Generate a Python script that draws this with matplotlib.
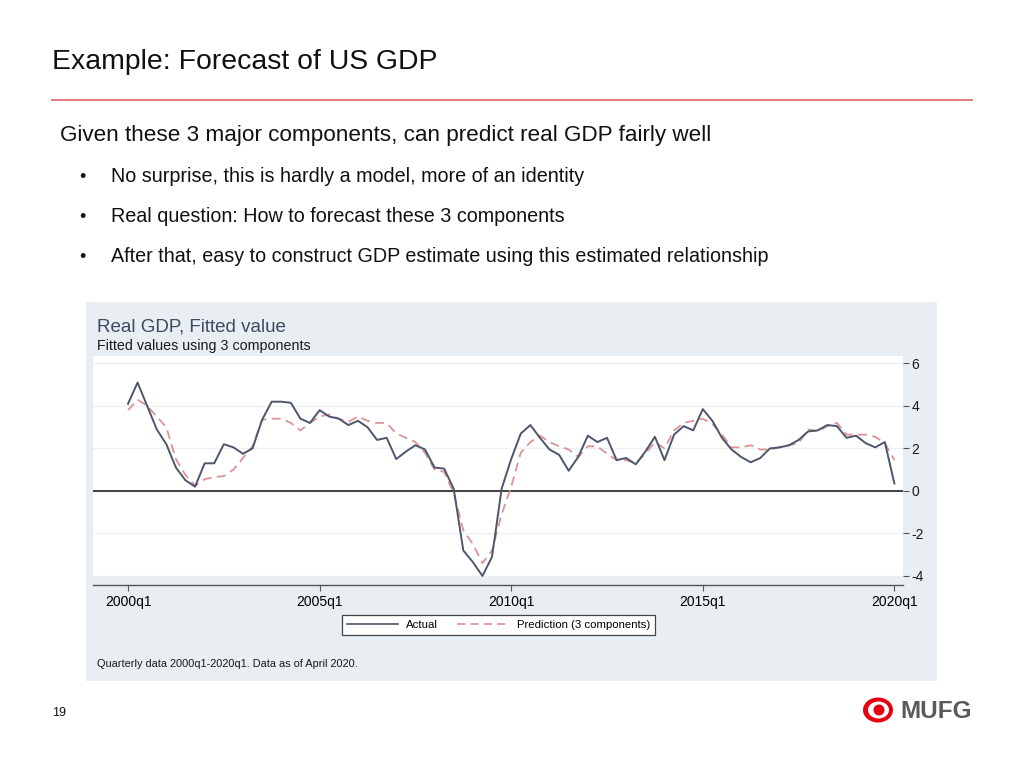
import matplotlib
matplotlib.use("Agg")
import matplotlib.pyplot as plt
from matplotlib.patches import Rectangle, Ellipse
from matplotlib.lines import Line2D
import numpy as np

plt.rcParams['font.family'] = ['Liberation Sans', 'DejaVu Sans']
plt.rcParams['axes.unicode_minus'] = False

# ---------------- data ----------------
years = list(range(2000, 2021))
quarters = [f"{y}q{q}" for y in years for q in range(1, 5)][:81]

actual = [4.1, 5.1, 4.0, 2.9,
          2.2, 1.1, 0.5, 0.2,
          1.3, 1.3, 2.2, 2.05,
          1.75, 2.0, 3.35, 4.2,
          4.2, 4.15, 3.4, 3.2,
          3.8, 3.5, 3.4, 3.1,
          3.3, 3.0, 2.4, 2.5,
          1.5, 1.85, 2.15, 1.95,
          1.1, 1.05, 0.1, -2.8,
          -3.35, -4.0, -3.1, 0.1,
          1.5, 2.7, 3.1, 2.5,
          1.95, 1.7, 0.95, 1.6,
          2.6, 2.3, 2.5, 1.45,
          1.55, 1.25, 1.85, 2.55,
          1.45, 2.65, 3.05, 2.85,
          3.85, 3.3, 2.5, 1.95,
          1.6, 1.35, 1.55, 2.0,
          2.05, 2.15, 2.4, 2.8,
          2.85, 3.1, 3.05, 2.5,
          2.6, 2.25, 2.05, 2.3,
          0.35]

prediction = [3.8, 4.3, 4.0, 3.5,
              3.0, 1.5, 0.75, 0.25,
              0.55, 0.65, 0.7, 1.0,
              1.55, 2.1, 3.35, 3.4,
              3.4, 3.2, 2.85, 3.2,
              3.5, 3.6, 3.4, 3.25,
              3.5, 3.3, 3.2, 3.2,
              2.7, 2.5, 2.3, 1.8,
              1.0, 0.9, -0.1, -1.85,
              -2.5, -3.4, -2.8, -1.1,
              0.2, 1.8, 2.3, 2.6,
              2.3, 2.1, 1.95, 1.6,
              2.1, 2.1, 1.75, 1.45,
              1.45, 1.3, 1.75, 2.3,
              2.0, 2.85, 3.2, 3.3,
              3.4, 3.15, 2.65, 2.05,
              2.05, 2.15, 1.95, 1.95,
              2.05, 2.15, 2.25, 2.9,
              2.8, 3.05, 3.2, 2.65,
              2.65, 2.65, 2.55, 2.25,
              1.45]

xtick_labels = ["2000q1", "2005q1", "2010q1", "2015q1", "2020q1"]
ytick_values = [-4, -2, 0, 2, 4, 6]

slide_title = "Example: Forecast of US GDP"
slide_sub = "Given these 3 major components, can predict real GDP fairly well"
bullets = ["No surprise, this is hardly a model, more of an identity",
           "Real question: How to forecast these 3 components",
           "After that, easy to construct GDP estimate using this estimated relationship"]

# ---------------- figure ----------------
W, H = 1024, 768
fig = plt.figure(figsize=(W / 100, H / 100), dpi=100)
fig.patch.set_facecolor('white')

bg = fig.add_axes([0, 0, 1, 1], zorder=0)
bg.set_xlim(0, W)
bg.set_ylim(H, 0)
bg.axis('off')

# slide header
bg.text(52, 69, slide_title, fontsize=20.4, color='#111111', va='baseline', ha='left')
bg.plot([52, 972], [100, 100], color='#e06666', lw=1.2)
bg.text(60, 141, slide_sub, fontsize=16.2, color='#111111', va='baseline', ha='left')
for i, b in enumerate(bullets):
    yb = 181.5 + 40 * i
    bg.text(79, yb, "•", fontsize=13, color='#111111', va='baseline', ha='left')
    bg.text(111, yb, b, fontsize=14.2, color='#111111', va='baseline', ha='left')

# chart panel
bg.add_patch(Rectangle((86, 302), 937 - 86, 681 - 302, facecolor='#e8eef1', edgecolor='none'))
bg.text(97, 332, "Real GDP, Fitted value", fontsize=13.5, color='#3c4a62', va='baseline', ha='left')
bg.text(97, 350, "Fitted values using 3 components", fontsize=10.3, color='#1a1a1a', va='baseline', ha='left')
bg.text(97, 667, "Quarterly data 2000q1-2020q1. Data as of April 2020.", fontsize=7.9,
        color='#1a1a1a', va='baseline', ha='left')

# page number
bg.text(52, 716, "19", fontsize=9, color='#111111', va='baseline', ha='left')

# MUFG logo
bg.add_patch(Ellipse((878, 710), 30, 25, facecolor='#e60012', edgecolor='none'))
bg.add_patch(Ellipse((878.5, 710), 21, 17, facecolor='white', edgecolor='none'))
bg.add_patch(Ellipse((879, 710), 11, 11, facecolor='#e60012', edgecolor='none'))
bg.text(900, 718, "MUFG", fontsize=17.5, fontweight='bold', color='#5a5a5a', va='baseline', ha='left')

# ---------------- main chart ----------------
left, right, top, bottom = 93, 903, 356, 577
ax = fig.add_axes([left / W, 1 - bottom / H, (right - left) / W, (bottom - top) / H], zorder=2)
ax.set_facecolor('white')

x = np.arange(len(actual))
ax.axhline(0, color='#333333', lw=1.3, zorder=2)
ax.plot(x, prediction, color='#dc9296', lw=1.3, dashes=(5, 3), zorder=3, label='Prediction (3 components)')
ax.plot(x, actual, color='#4d566c', lw=1.4, zorder=4, label='Actual')

px_per_q = 9.58
ax.set_xlim((left - 128) / px_per_q, (right - 128) / px_per_q)
ax.set_ylim(-4.05, 6.35)

for yv in ytick_values:
    ax.axhline(yv, color='#eef1f3', lw=1.0, zorder=1)

xt = [quarters.index(l) for l in xtick_labels]
ax.set_xticks(xt)
ax.set_xticklabels(xtick_labels, fontsize=9.8, color='#1a1a1a')
ax.yaxis.tick_right()
ax.set_yticks(ytick_values)
ax.set_yticklabels([str(v) for v in ytick_values], fontsize=10, color='#1a1a1a')

for s in ['top', 'left', 'right']:
    ax.spines[s].set_visible(False)
ax.spines['bottom'].set_position(('outward', 5.8))
ax.spines['bottom'].set_color('#555555')
ax.spines['bottom'].set_linewidth(1.0)
ax.tick_params(axis='x', length=4, width=0.8, color='#555555', pad=3)
ax.tick_params(axis='y', length=4, width=0.8, color='#555555', pad=2)

handles = [Line2D([], [], color='#4d566c', lw=1.2),
           Line2D([], [], color='#dc9296', lw=1.2, dashes=(5, 3))]
leg = fig.legend(handles, ['Actual', 'Prediction (3 components)'], loc='center',
                 bbox_to_anchor=(498.5 / W, 1 - 625 / H), ncol=2, fontsize=8.2,
                 frameon=True, fancybox=False, edgecolor='#444444', framealpha=1,
                 handlelength=4.5, handletextpad=0.7, columnspacing=1.7,
                 borderpad=0.45, borderaxespad=0)
leg.get_frame().set_linewidth(0.9)

fig.savefig('out.png', dpi=100, facecolor='white')
